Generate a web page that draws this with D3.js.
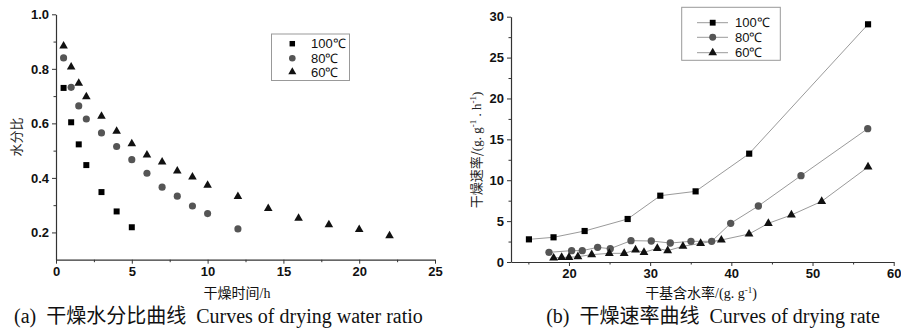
<!DOCTYPE html>
<html><head><meta charset="utf-8">
<script src="https://cdn.jsdelivr.net/npm/d3@7/dist/d3.min.js"></script>
<style>
body{margin:0;background:#fff;}
svg{display:block;}
.tick text{font-family:"Liberation Sans",Arial,sans-serif;}
</style></head>
<body>
<svg id="c" width="901" height="329"></svg>
<script>
// ---------- data: (a) drying water ratio ----------
const timeTicks = [0,5,10,15,20,25];
const ratioTicks = [0.2,0.4,0.6,0.8,1.0];
const seriesNames = ["100℃","80℃","60℃"];
const t100 = [0.5,1,1.5,2,3,4,5];
const mr100 = [0.730,0.604,0.523,0.447,0.348,0.277,0.219];
const t80 = [0.5,1,1.5,2,3,4,5,6,7,8,9,10,12];
const mr80 = [0.840,0.732,0.664,0.616,0.565,0.515,0.467,0.417,0.366,0.333,0.297,0.269,0.213];
const t60 = [0.5,1,1.5,2,3,4,5,6,7,8,9,10,12,14,16,18,20,22];
const mr60 = [0.884,0.807,0.747,0.698,0.626,0.571,0.525,0.484,0.458,0.425,0.403,0.373,0.332,0.288,0.252,0.228,0.211,0.188];

// ---------- data: (b) drying rate ----------
const moistTicks = [20,30,40,50,60];
const rateTicks = [0,5,10,15,20,25,30];
const x100 = [15.07,18.1,21.93,27.23,31.25,35.6,42.2,56.84];
const r100 = [2.77,3.02,3.79,5.26,8.11,8.64,13.25,29.07];
const x80 = [17.54,20.33,21.64,23.53,25.09,27.64,30.14,32.48,35.03,37.58,39.92,43.33,48.58,56.8];
const r80 = [1.18,1.39,1.39,1.79,1.63,2.61,2.57,2.32,2.53,2.53,4.73,6.85,10.56,16.31];
const x60 = [18.11,19.1,20.0,21.1,22.8,24.97,26.8,28.2,29.24,30.88,32.16,34.04,36.22,38.77,42.18,44.56,47.4,51.13,56.84];
const r60 = [0.49,0.57,0.57,0.65,0.9,1.06,1.06,1.47,1.18,1.67,1.39,1.92,2.28,2.69,3.42,4.73,5.75,7.42,11.62];

const svg = d3.select("#c");
const axisColor = "#333";
const symTypes = [d3.symbolSquare, d3.symbolCircle, d3.symbolTriangle];
const symFill = ["#000","#555","#111"];

function styleAxis(g){
  g.select(".domain").attr("stroke",axisColor).attr("stroke-width",1.2);
  g.selectAll(".tick line").attr("stroke",axisColor);
  g.selectAll(".tick text").attr("fill","#111").attr("font-size","13px").attr("font-weight","bold");
}
function minorAxis(g, axis){
  g.call(axis);
  g.select(".domain").remove();
  g.selectAll("text").remove();
  g.selectAll("line").attr("stroke",axisColor);
}

// ================= (a) =================
const xa = d3.scaleLinear().domain([0,25]).range([56,435]);
const ya = d3.scaleLinear().domain([0.1,1.0]).range([259.7,14.3]);

svg.append("g").attr("transform","translate(0,259.7)")
  .call(g=>minorAxis(g, d3.axisBottom(xa).tickValues(d3.range(2.5,25,5)).tickSize(2.5)));
svg.append("g").attr("transform","translate(56,0)")
  .call(g=>minorAxis(g, d3.axisLeft(ya).tickValues([0.3,0.5,0.7,0.9]).tickSize(2.5)));
svg.append("g").attr("transform","translate(0,259.7)")
  .call(d3.axisBottom(xa).tickValues(timeTicks).tickFormat(d3.format("d")).tickSize(4).tickSizeOuter(0).tickPadding(3))
  .call(styleAxis);
svg.append("g").attr("transform","translate(56,0)")
  .call(d3.axisLeft(ya).tickValues(ratioTicks).tickFormat(d3.format(".1f")).tickSize(4).tickSizeOuter(0).tickPadding(3))
  .call(styleAxis);

const aSeries = [[t100,mr100],[t80,mr80],[t60,mr60]];
const aSizes = [36,40,32];
aSeries.forEach(([xs,ys],i)=>{
  svg.append("g").selectAll("path").data(xs.map((x,j)=>[x,ys[j]])).join("path")
    .attr("transform",d=>`translate(${xa(d[0])},${ya(d[1])})`)
    .attr("d",d3.symbol().type(symTypes[i]).size(aSizes[i])())
    .attr("fill",symFill[i]);
});

// legend (a)
const la = svg.append("g");
la.append("rect").attr("x",271.5).attr("y",34).attr("width",78).attr("height",46.5)
  .attr("fill","#fff").attr("stroke","#999").attr("stroke-width",1);
seriesNames.forEach((n,i)=>{
  const yy = [43.7,58.3,72][i];
  la.append("path").attr("transform",`translate(292.3,${yy})`)
    .attr("d",d3.symbol().type(symTypes[i]).size([30,34,28][i])()).attr("fill",symFill[i]);
  la.append("text").attr("x",311).attr("y",yy+4.5).text(n)
    .attr("font-family","Liberation Sans,Arial,sans-serif").attr("font-size","13px").attr("fill","#111");
});

// axis titles (a)
svg.append("text").attr("transform","translate(21,137) rotate(-90)").attr("text-anchor","middle")
  .attr("font-family","Noto Sans CJK SC,sans-serif").attr("font-size","13px").attr("fill","#222").text("水分比");
svg.append("text").attr("x",237).attr("y",297.5).attr("text-anchor","middle")
  .attr("font-family","Liberation Serif,Noto Sans CJK SC,serif").attr("font-size","14px").attr("fill","#111").text("干燥时间/h");

// ================= (b) =================
const xb = d3.scaleLinear().domain([12.86,60]).range([511,893.7]);
const yb = d3.scaleLinear().domain([0,30]).range([262,16.7]);

svg.append("g").attr("transform","translate(0,262)")
  .call(g=>minorAxis(g, d3.axisBottom(xb).tickValues(d3.range(15,60,10)).tickSize(2.5)));
svg.append("g").attr("transform","translate(511,0)")
  .call(g=>minorAxis(g, d3.axisLeft(yb).tickValues(d3.range(2.5,30,5)).tickSize(2.5)));
svg.append("g").attr("transform","translate(0,262)")
  .call(d3.axisBottom(xb).tickValues(moistTicks).tickFormat(d3.format("d")).tickSize(4).tickSizeOuter(0).tickPadding(3))
  .call(styleAxis);
svg.append("g").attr("transform","translate(511,0)")
  .call(d3.axisLeft(yb).tickValues(rateTicks).tickFormat(d3.format("d")).tickSize(4).tickSizeOuter(0).tickPadding(3))
  .call(styleAxis);

const bSeries = [[x100,r100],[x80,r80],[x60,r60]];
const bSizes = [38,42,34];
const line = d3.line().x(d=>xb(d[0])).y(d=>yb(d[1]));
bSeries.forEach(([xs,ys],i)=>{
  const pts = xs.map((x,j)=>[x,ys[j]]);
  svg.append("path").datum(pts).attr("d",line).attr("fill","none").attr("stroke","#9a9a9a").attr("stroke-width",1);
});
bSeries.forEach(([xs,ys],i)=>{
  svg.append("g").selectAll("path").data(xs.map((x,j)=>[x,ys[j]])).join("path")
    .attr("transform",d=>`translate(${xb(d[0])},${yb(d[1])})`)
    .attr("d",d3.symbol().type(symTypes[i]).size(bSizes[i])())
    .attr("fill",symFill[i]);
});

// legend (b)
const lb = svg.append("g");
lb.append("rect").attr("x",681.7).attr("y",7.3).attr("width",98.6).attr("height",53)
  .attr("fill","#fff").attr("stroke","#999").attr("stroke-width",1);
seriesNames.forEach((n,i)=>{
  const yy = [22.7,37.3,52.7][i];
  lb.append("line").attr("x1",697).attr("x2",728).attr("y1",yy).attr("y2",yy).attr("stroke","#9a9a9a");
  lb.append("path").attr("transform",`translate(712.7,${yy})`)
    .attr("d",d3.symbol().type(symTypes[i]).size([34,38,32][i])()).attr("fill",symFill[i]);
  lb.append("text").attr("x",735).attr("y",yy+4.5).text(n)
    .attr("font-family","Liberation Sans,Arial,sans-serif").attr("font-size","13px").attr("fill","#111");
});

// axis titles (b)
const yt = svg.append("text").attr("transform","translate(481,150) rotate(-90)").attr("text-anchor","middle")
  .attr("font-size","13px").attr("fill","#222");
yt.append("tspan").attr("font-family","Noto Sans CJK SC,sans-serif").text("干燥速率/");
yt.append("tspan").attr("font-family","Liberation Serif,serif").text("(g. g");
yt.append("tspan").attr("font-family","Liberation Serif,serif").attr("font-size","9px").attr("dy","-5").text("-1");
yt.append("tspan").attr("font-family","Liberation Serif,serif").attr("dy","5").text(" . h");
yt.append("tspan").attr("font-family","Liberation Serif,serif").attr("font-size","9px").attr("dy","-5").text("-1");
yt.append("tspan").attr("font-family","Liberation Serif,serif").attr("dy","5").text(")");

const xt = svg.append("text").attr("x",701).attr("y",297.5).attr("text-anchor","middle")
  .attr("font-family","Liberation Serif,Noto Sans CJK SC,serif").attr("font-size","14px").attr("fill","#111");
xt.append("tspan").text("干基含水率/(g. g");
xt.append("tspan").attr("font-size","9px").attr("dy","-5").text("-1");
xt.append("tspan").attr("dy","5").text(")");

// captions
svg.append("text").attr("x",14).attr("y",323).attr("font-family","Liberation Serif,Noto Sans CJK SC,serif")
  .attr("font-size","20px").attr("fill","#111").attr("xml:space","preserve").text("(a)  干燥水分比曲线  Curves of drying water ratio");
svg.append("text").attr("x",880).attr("y",323).attr("text-anchor","end").attr("font-family","Liberation Serif,Noto Sans CJK SC,serif")
  .attr("font-size","20px").attr("fill","#111").attr("xml:space","preserve").text("(b)  干燥速率曲线  Curves of drying rate");
</script>
</body></html>
